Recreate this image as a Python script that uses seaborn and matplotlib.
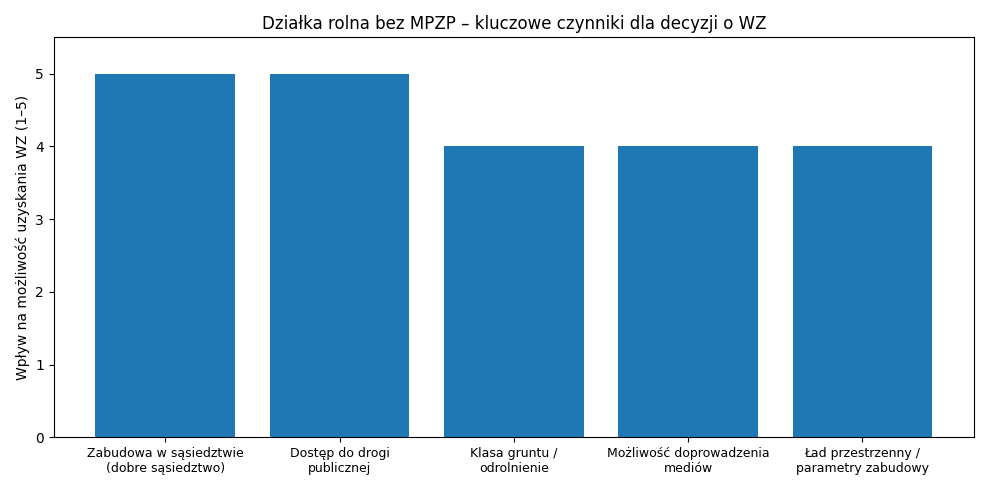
import matplotlib
matplotlib.use("Agg")
import matplotlib.pyplot as plt
import seaborn as sns
import pandas as pd

# Dane
czynniki = [
    "Zabudowa w sąsiedztwie\n(dobre sąsiedztwo)",
    "Dostęp do drogi\npublicznej",
    "Klasa gruntu /\nodrolnienie",
    "Możliwość doprowadzenia\nmediów",
    "Ład przestrzenny /\nparametry zabudowy",
]
wplyw = [5, 5, 4, 4, 4]

df = pd.DataFrame({"czynnik": czynniki, "wplyw": wplyw})

fig, ax = plt.subplots(figsize=(9.89, 4.9), dpi=100)
sns.barplot(data=df, x="czynnik", y="wplyw", color="#1f77b4",
            saturation=1, width=0.8, ax=ax)
ax.set_xlim(-0.64, 4.64)
ax.set_ylim(0, 5.5)
ax.set_xlabel("")
ax.tick_params(axis="x", labelsize=9)
ax.set_ylabel("Wpływ na możliwość uzyskania WZ (1–5)")
ax.set_title("Działka rolna bez MPZP – kluczowe czynniki dla decyzji o WZ")
plt.tight_layout()
plt.savefig("out.png")
